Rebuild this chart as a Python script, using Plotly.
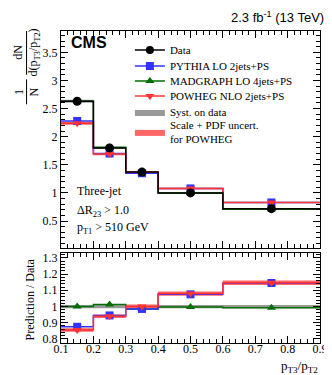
import plotly.graph_objects as go

# 分bin边界与中心
bin_edges = [0.1, 0.2, 0.3, 0.4, 0.6, 0.9]
bin_centers = [0.15, 0.25, 0.35, 0.5, 0.75]

# 归一化分布
data_vals = [2.63, 1.80, 1.37, 1.00, 0.72]
pythia_vals = [2.28, 1.70, 1.35, 1.08, 0.83]
madgraph_vals = [2.63, 1.81, 1.35, 1.00, 0.71]
powheg_vals = [2.24, 1.69, 1.37, 1.08, 0.83]

# 相对不确定度
data_syst = [0.010, 0.010, 0.010, 0.010, 0.010]
powheg_unc = [0.012, 0.012, 0.012, 0.012, 0.012]

# 比值 Prediction / Data
pythia_ratio = [0.875, 0.945, 0.985, 1.075, 1.145]
madgraph_ratio = [1.00, 1.012, 0.985, 0.997, 0.992]
powheg_ratio = [0.855, 0.94, 1.00, 1.08, 1.147]

BLACK = 'black'
BLUE = 'rgb(51, 51, 255)'
GREEN = 'rgb(0, 110, 0)'
RED = 'rgb(255, 51, 51)'
GREY = 'rgb(153, 153, 153)'
PINK = 'rgb(255, 102, 102)'

SERIF = 'Liberation Serif'


def step(vals):
    return list(vals) + [vals[-1]]


def add_band(fig, vals, rel, color, xa, ya, name=None, legend=None):
    lo = [v * (1 - r) for v, r in zip(vals, rel)]
    hi = [v * (1 + r) for v, r in zip(vals, rel)]
    fig.add_trace(go.Scatter(x=bin_edges, y=step(lo), mode='lines', line=dict(width=0, shape='hv'),
                             xaxis=xa, yaxis=ya, showlegend=False, hoverinfo='skip'))
    fig.add_trace(go.Scatter(x=bin_edges, y=step(hi), mode='lines', line=dict(width=0, shape='hv'),
                             fill='tonexty', fillcolor=color, xaxis=xa, yaxis=ya,
                             name=name, showlegend=name is not None, hoverinfo='skip',
                             legend=legend or 'legend'))


def add_series(fig, vals, color, symbol, size, xa, ya):
    fig.add_trace(go.Scatter(x=bin_edges, y=step(vals), mode='lines',
                             line=dict(color=color, width=1.5, shape='hv'),
                             xaxis=xa, yaxis=ya, showlegend=False))
    fig.add_trace(go.Scatter(x=bin_centers, y=vals, mode='markers',
                             marker=dict(color=color, symbol=symbol, size=size),
                             xaxis=xa, yaxis=ya, showlegend=False))


fig = go.Figure()

# 上图
add_band(fig, data_vals, data_syst, GREY, 'x', 'y', 'Syst. on data', 'legend5')
add_band(fig, powheg_vals, powheg_unc, PINK, 'x', 'y', 'Scale + PDF uncert.<br>for POWHEG', 'legend6')
add_series(fig, madgraph_vals, GREEN, 'triangle-up', 8, 'x', 'y')
add_series(fig, pythia_vals, BLUE, 'square', 8, 'x', 'y')
add_series(fig, powheg_vals, RED, 'triangle-down', 8, 'x', 'y')
add_series(fig, data_vals, BLACK, 'circle', 9, 'x', 'y')

# 下图
add_band(fig, [1.0] * 5, data_syst, GREY, 'x2', 'y2')
add_band(fig, powheg_ratio, powheg_unc, PINK, 'x2', 'y2')
add_series(fig, madgraph_ratio, GREEN, 'triangle-up', 8, 'x2', 'y2')
add_series(fig, pythia_ratio, BLUE, 'square', 8, 'x2', 'y2')
add_series(fig, powheg_ratio, RED, 'triangle-down', 8, 'x2', 'y2')

# 图例条目 (每条一个 legend, 以控制行距)
legend_items = [('Data', BLACK, 'circle', 'legend'),
                ('PYTHIA LO 2jets+PS', BLUE, 'square', 'legend2'),
                ('MADGRAPH LO 4jets+PS', GREEN, 'triangle-up', 'legend3'),
                ('POWHEG NLO 2jets+PS', RED, 'triangle-down', 'legend4')]
for name, color, symbol, lg in legend_items:
    fig.add_trace(go.Scatter(x=[None], y=[None], mode='lines+markers', name=name,
                             line=dict(color=color, width=1.5),
                             marker=dict(color=color, symbol=symbol, size=8),
                             legend=lg))

axis_common = dict(
    showline=True, linecolor='black', linewidth=1, mirror='allticks',
    ticks='inside', ticklen=7, tickcolor='black', showgrid=False, zeroline=False,
    tickfont=dict(family=SERIF, size=12, color='black'),
)

legend_y = [0.939, 0.888, 0.840, 0.792, 0.740, 0.676]
legend_style = dict(x=0.266, xanchor='left', yanchor='middle', bgcolor='rgba(0,0,0,0)',
                    font=dict(family=SERIF, size=11, color='black'), itemwidth=30)
legends = {}
for i, ly in enumerate(legend_y):
    key = 'legend' if i == 0 else f'legend{i + 1}'
    legends[key] = dict(y=ly, **legend_style)

fig.update_layout(
    width=332, height=375,
    margin=dict(l=53, r=16, t=23, b=40),
    plot_bgcolor='white', paper_bgcolor='white',
    font=dict(family=SERIF, size=12, color='black'),
    xaxis=dict(domain=[0, 1], range=[0.1, 0.9], dtick=0.1, showticklabels=False,
               anchor='y', matches='x2',
               minor=dict(dtick=0.02, ticklen=4, ticks='inside', tickcolor='black'),
               **axis_common),
    yaxis=dict(domain=[0.3045, 1], range=[0.02, 3.88], tickvals=[0.5, 1, 1.5, 2, 2.5, 3, 3.5],
               ticktext=['0.5', '1', '1.5', '2', '2.5', '3', '3.5'], anchor='x',
               minor=dict(dtick=0.1, ticklen=4, ticks='inside', tickcolor='black'),
               **axis_common),
    xaxis2=dict(domain=[0, 1], range=[0.1, 0.9], dtick=0.1, anchor='y2', ticklabelstandoff=-5,
                minor=dict(dtick=0.02, ticklen=4, ticks='inside', tickcolor='black'),
                **axis_common),
    yaxis2=dict(domain=[0, 0.2885], range=[0.775, 1.33], tickvals=[0.8, 0.9, 1, 1.1, 1.2, 1.3],
                ticktext=['0.8', '0.9', '1', '1.1', '1.2', '1.3'], anchor='x2',
                minor=dict(dtick=0.02, ticklen=4, ticks='inside', tickcolor='black'),
                **axis_common),
    showlegend=True,
    **legends,
)

annotations = [
    dict(text='2.3 fb<sup>-1</sup> (13 TeV)', x=1.025, y=1.012, xanchor='right', yanchor='bottom',
         font=dict(family='Liberation Sans', size=13)),
    dict(text='<b>CMS</b>', x=0.03, y=0.962, xanchor='left', yanchor='middle',
         font=dict(family='Liberation Sans', size=16)),
    dict(text='Three-jet', x=0.053, y=0.487, xanchor='left', yanchor='middle'),
    dict(text='ΔR<sub>23</sub> > 1.0', x=0.053, y=0.423, xanchor='left', yanchor='middle'),
    dict(text='p<sub>T1</sub> > 510 GeV', x=0.053, y=0.369, xanchor='left', yanchor='middle'),
    dict(text='p<sub>T3</sub>/p<sub>T2</sub>', x=1, y=-0.075, xanchor='right', yanchor='middle',
         font=dict(family=SERIF, size=13)),
    dict(text='Prediction / Data', x=-0.118, y=0.141, xanchor='center', yanchor='middle',
         textangle=-90, font=dict(family=SERIF, size=12)),
    dict(text='1<br>N', x=-0.133, y=0.805, xanchor='center', yanchor='middle',
         textangle=-90, font=dict(family=SERIF, size=12)),
    dict(text='dN<br>d(p<sub>T3</sub>/p<sub>T2</sub>)', x=-0.133, y=0.93, xanchor='center',
         yanchor='middle', textangle=-90, font=dict(family=SERIF, size=12)),
]
for a in annotations:
    a.setdefault('font', dict(family=SERIF, size=12))
    a.update(xref='paper', yref='paper', showarrow=False)
fig.update_layout(annotations=annotations)

# 分数线
fig.add_shape(type='line', xref='paper', yref='paper', x0=-0.133, x1=-0.133, y0=0.765, y1=0.845,
              line=dict(color='black', width=1))
fig.add_shape(type='line', xref='paper', yref='paper', x0=-0.133, x1=-0.133, y0=0.86, y1=1.0,
              line=dict(color='black', width=1))

fig.write_html("out.html")
